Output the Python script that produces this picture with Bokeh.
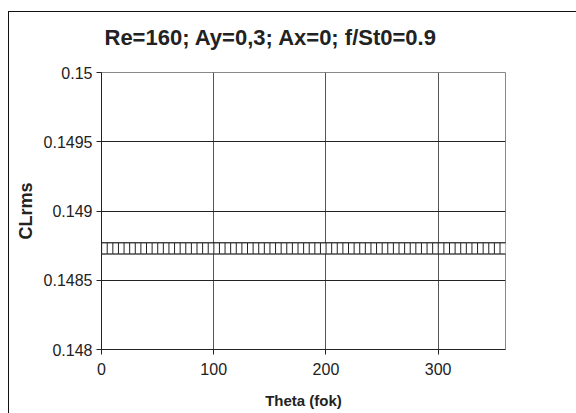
from bokeh.plotting import figure
from bokeh.models import FixedTicker, Title
from bokeh.embed import file_html
from bokeh.resources import INLINE

title_text = "Re=160; Ay=0,3;  Ax=0; f/St0=0.9"
x_label = "Theta (fok)"
y_label = "CLrms"

theta = list(range(0, 361, 5))
clrms = [0.14873] * len(theta)

x_ticks = [0, 100, 200, 300]
y_ticks = [0.148, 0.1485, 0.149, 0.1495, 0.15]
y_tick_labels = ["0.148", "0.1485", "0.149", "0.1495", "0.15"]

FONT = "Liberation Sans"

p = figure(width=576, height=413, output_backend="svg", toolbar_location=None,
           x_range=(0, 360), y_range=(0.148, 0.15),
           min_border_left=101, min_border_right=71, min_border_top=70, min_border_bottom=64)
p.styles = {"background": "linear-gradient(#111,#111) 8px 11px / 568px 1px no-repeat, "
                          "linear-gradient(#111,#111) 8px 11px / 1px 402px no-repeat, white"}
p.border_fill_color = None

p.title = None
t = Title(text=title_text, align="left", offset=3, text_font=FONT, text_font_size="22px",
          text_font_style="bold", text_color="#222222", standoff=45, text_line_height=0.7)
p.add_layout(t, "above")

p.background_fill_color = "white"
p.outline_line_color = "#888888"

p.scatter(theta, clrms, marker="square", size=11, fill_color="white",
          line_color="#222222", line_width=1)

p.xaxis.ticker = FixedTicker(ticks=x_ticks)
p.yaxis.ticker = FixedTicker(ticks=y_ticks)
p.yaxis.major_label_overrides = {v: s for v, s in zip(y_ticks, y_tick_labels)}
p.xaxis.major_label_overrides = {v: str(v) for v in x_ticks}

for ax in (p.xaxis, p.yaxis):
    ax.axis_line_color = "#222222"
    ax.major_tick_line_color = "#222222"
    ax.major_tick_out = 5
    ax.major_tick_in = 0
    ax.minor_tick_line_color = None
    ax.major_label_text_font = FONT
    ax.major_label_text_font_size = "16px"
    ax.major_label_text_color = "#222222"
    ax.axis_label_text_font = FONT
    ax.axis_label_text_font_style = "bold"
    ax.axis_label_text_color = "#222222"

p.xaxis.axis_label = x_label
p.xaxis.axis_label_text_font_size = "15px"
p.xaxis.major_label_standoff = 8
p.xaxis.axis_label_standoff = 14
p.yaxis.axis_label = y_label
p.yaxis.axis_label_text_font_size = "18px"
p.yaxis.major_label_standoff = 4
p.yaxis.axis_label_standoff = 5

p.xgrid.ticker = FixedTicker(ticks=[100, 200, 300])
p.xgrid.grid_line_color = "#555555"
p.ygrid.grid_line_color = "#222222"

open("out.html", "w").write(file_html(p, INLINE))
